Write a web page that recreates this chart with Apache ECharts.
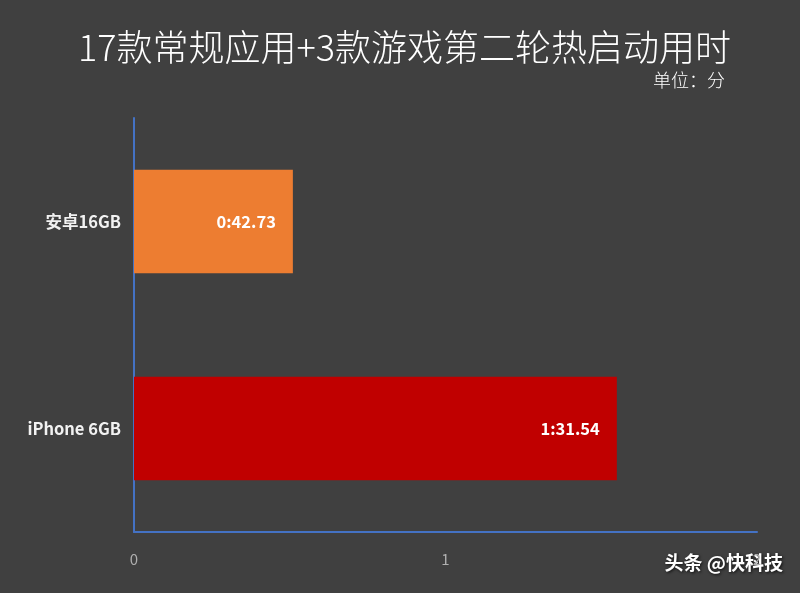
<!DOCTYPE html>
<html><head><meta charset="utf-8">
<script src="https://cdn.jsdelivr.net/npm/echarts@6/dist/echarts.min.js"></script>
<style>html,body{margin:0;padding:0;background:#404040}#c{width:800px;height:593px}</style>
</head><body><div id="c"></div>
<script>
const categories = ['安卓16GB', 'iPhone 6GB'];
const values = [0.51, 1.55];
const valueLabels = ['0:42.73', '1:31.54'];
const barColors = ['#ED7D31', '#C00000'];
const titleText = '17款常规应用+3款游戏第二轮热启动用时';
const unitText = '单位：分';

const chart = echarts.init(document.getElementById('c'));
chart.setOption({
  backgroundColor: '#404040',
  animation: false,
  title: {
    text: titleText, left: 73, top: 24,
    textStyle: { color: '#ffffff', fontSize: 36, fontWeight: 300, fontFamily: 'Noto Sans CJK SC' }
  },
  graphic: [
    { type: 'text', right: 75, top: 71, style: { text: unitText, fill: '#ffffff', font: '300 18px "Noto Sans CJK SC"' } },
    { type: 'text', right: 17, top: 553, style: { text: '头条 @快科技', fill: '#ffffff', font: 'bold 19px "Noto Sans CJK SC"', textShadowColor: 'rgba(0,0,0,0.8)', textShadowBlur: 3, textShadowOffsetX: 1, textShadowOffsetY: 1 } }
  ],
  grid: { left: 134, right: 43, top: 118, bottom: 61 },
  xAxis: {
    type: 'value', min: 0, max: 2, interval: 1,
    axisLine: { show: true, lineStyle: { color: '#4472C4', width: 2 } },
    axisTick: { show: false },
    splitLine: { show: false },
    axisLabel: { color: '#b0b0b0', fontSize: 15, margin: 20, fontFamily: 'Noto Sans CJK SC' }
  },
  yAxis: {
    type: 'category', data: categories, inverse: true,
    axisLine: { show: true, lineStyle: { color: '#4472C4', width: 2 } },
    axisTick: { show: false },
    axisLabel: { color: '#f2f2f2', fontSize: 16.5, fontWeight: 'bold', margin: 13, fontFamily: 'Noto Sans CJK SC' }
  },
  series: [{
    type: 'bar', barWidth: '50%',
    data: values.map((v, i) => ({ value: v, itemStyle: { color: barColors[i] } })),
    label: {
      show: true, position: 'insideRight', distance: 17,
      formatter: p => valueLabels[p.dataIndex],
      color: '#ffffff', fontSize: 16.5, fontWeight: 'bold', fontFamily: 'Noto Sans CJK SC'
    }
  }]
});
</script></body></html>
